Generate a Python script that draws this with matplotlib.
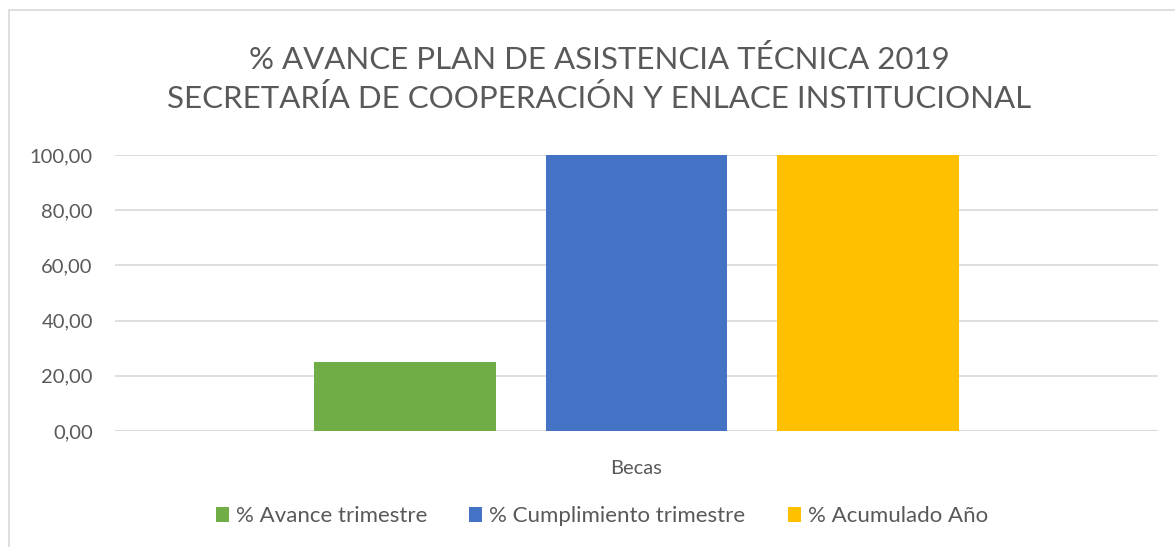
import matplotlib.pyplot as plt
from matplotlib.patches import Rectangle
from matplotlib.ticker import FuncFormatter

plt.rcParams['font.family'] = ['Lato', 'DejaVu Sans']

categories = ['Becas']
series_names = ['% Avance trimestre', '% Cumplimiento trimestre', '% Acumulado Año']
series_values = [[25.0], [100.0], [100.0]]
series_colors = ['#70ad47', '#4472c4', '#ffc000']
y_ticks = [0, 20, 40, 60, 80, 100]

fig = plt.figure(figsize=(11.75, 5.47), dpi=100)
ax = fig.add_axes([0.0979, 0.2121, 0.8876, 0.5045])

# borde del gráfico
fig.patches.append(Rectangle((9 / 1175, -0.1), 1.2, 1 - 10 / 547 + 0.1, transform=fig.transFigure,
                             fill=False, edgecolor='#d9d9d9', linewidth=1.2))

width = 0.1745
offsets = [-0.222, 0.0, 0.222]
for name, vals, col, off in zip(series_names, series_values, series_colors, offsets):
    xs = [i + off for i in range(len(categories))]
    ax.bar(xs, vals, width=width, color=col, label=name, zorder=3)

ax.set_xlim(-0.5, len(categories) - 0.5)
ax.set_ylim(0, 100)
ax.set_yticks(y_ticks)
ax.yaxis.set_major_formatter(FuncFormatter(lambda v, p: f'{v:.2f}'.replace('.', ',')))
ax.set_xticks(range(len(categories)))
ax.set_xticklabels(categories)
ax.grid(axis='y', color='#d9d9d9', linewidth=1.2, zorder=0)
for s in ax.spines.values():
    s.set_visible(False)
ax.tick_params(axis='y', length=0, labelsize=14.5, colors='#595959', pad=16)
ax.tick_params(axis='x', length=0, labelsize=14.5, colors='#595959', pad=21)
ax.axhline(0, color='#d9d9d9', linewidth=1.2, zorder=2)

fig.text(0.51, 0.855, '% AVANCE PLAN DE ASISTENCIA TÉCNICA 2019\nSECRETARÍA DE COOPERACIÓN Y ENLACE INSTITUCIONAL',
         ha='center', va='center', fontsize=22.5, color='#595959', linespacing=1.42)

leg = fig.legend(loc='center', bbox_to_anchor=(0.512, 0.056), ncol=3, frameon=False,
                 fontsize=16, handlelength=0.6, handleheight=0.6, handletextpad=0.3,
                 columnspacing=1.9, labelcolor='#595959')

fig.savefig('out.png', dpi=100)
